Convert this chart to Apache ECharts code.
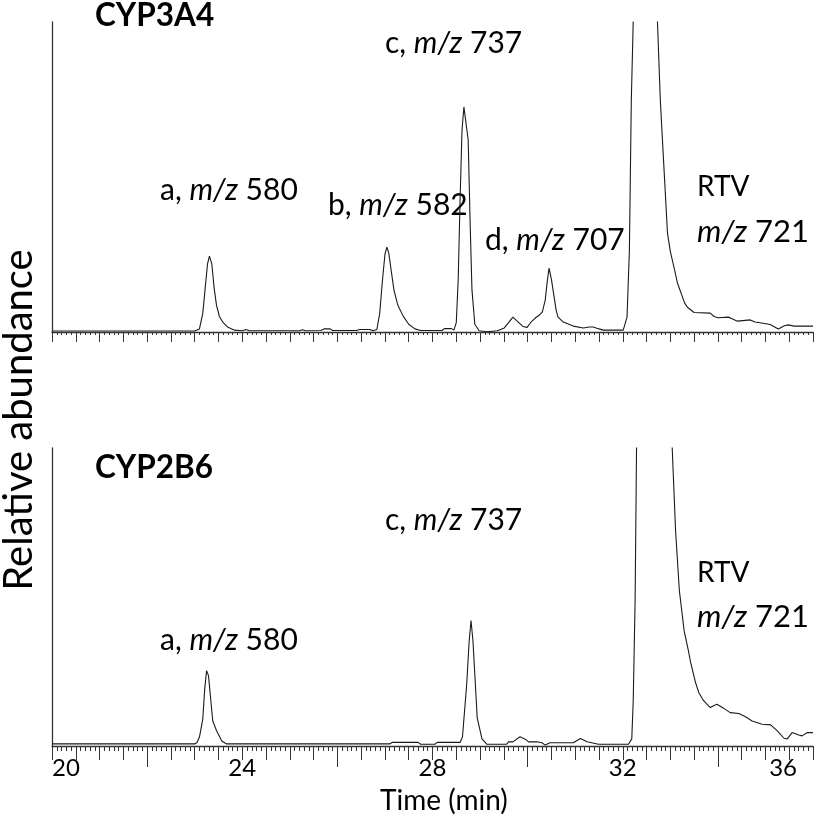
<!DOCTYPE html>
<html><head><meta charset="utf-8">
<script src="https://cdn.jsdelivr.net/npm/echarts/dist/echarts.min.js"></script>
<style>html,body{margin:0;padding:0;background:#fff}#c{width:816px;height:816px}</style>
</head><body><div id="c"></div>
<script>
// ---- data (time in min, relative abundance in %, peaks clipped at 100) ----
const topTimes = [20.0,21.0,22.0,23.0,23.04,23.1,23.17,23.22,23.27,23.31,23.36,23.41,23.46,23.52,23.6,23.7,23.84,24.0,24.08,24.15,25.2,25.27,25.33,25.65,25.72,25.85,25.9,26.4,26.47,26.68,26.75,26.83,26.89,26.95,27.0,27.04,27.08,27.13,27.19,27.27,27.38,27.5,27.63,27.75,28.2,28.25,28.4,28.45,28.5,28.54,28.58,28.62,28.66,28.7,28.75,28.79,28.83,28.89,28.98,29.15,29.36,29.5,29.6,29.69,29.78,29.9,29.99,30.06,30.16,30.25,30.31,30.37,30.41,30.45,30.5,30.54,30.6,30.64,30.75,30.96,31.17,31.3,31.38,31.5,31.59,32.01,32.09,32.14,32.18,32.22,32.45,32.73,32.79,32.88,32.94,33.0,33.09,33.15,33.3,33.36,33.5,33.84,33.92,34.0,34.22,34.3,34.41,34.68,34.78,34.95,35.1,35.27,35.4,35.48,35.6,35.91,36.0];
const topValues = [0.3,0.3,0.3,0.3,0.5,1.0,6,14,22,24.5,22,14,8.5,5,3,1.5,0.6,0.4,0.8,0.4,0.4,0.7,0.4,0.5,1.0,1.0,0.5,0.5,0.8,0.8,0.4,0.8,6,17,25,27.4,25.5,20,13.5,8.7,5.2,2.5,1.0,0.5,0.5,1.1,1.1,0.6,3,16.8,42.6,65,72.6,73.2,62,36,13.5,2.5,0.4,0.1,0.4,1.2,3,4.8,3.5,1.8,1.5,3,4.5,5.5,6.5,10.3,16,20.6,17,13,7,4.8,3.2,1.9,1.3,1.6,1.6,1.0,0.6,0.6,4.8,26.5,74.8,100,400,100,74.8,49,32,26,20,15.8,9.4,8,6.3,6.1,5,4.6,4.8,4.3,3.5,3.9,3.2,2.8,2.4,1.0,2.0,2.3,1.9,1.9,1.9];
const botTimes = [20.0,23.0,23.05,23.1,23.17,23.21,23.25,23.29,23.34,23.38,23.46,23.57,23.67,27.1,27.15,27.7,27.75,28.05,28.1,28.58,28.63,28.72,28.77,28.81,28.85,28.89,28.94,29.04,29.14,29.56,29.6,29.69,29.84,29.95,30.02,30.19,30.23,30.3,30.37,30.47,30.96,31.11,31.25,31.49,32.12,32.19,32.22,32.26,32.29,32.65,33.04,33.11,33.19,33.29,33.38,33.42,33.53,33.6,33.7,33.84,33.91,33.98,34.12,34.26,34.44,34.58,34.72,34.93,35.11,35.25,35.39,35.46,35.56,35.7,35.77,35.88,36.0];
const botValues = [0.7,0.7,1.2,3,9,19,25.3,23.6,15.2,8.4,5.1,1.7,0.7,0.7,1.2,1.2,0.6,0.6,1.2,1.2,3,20.9,35,42.1,35.4,24,9.4,2.4,0.6,0.6,1.4,1.4,3.1,2.3,1.4,1.4,1.9,1.1,0.3,1.1,1.1,2.5,1.4,0.6,0.6,2.4,15,48.8,100,400,100,72.4,52.2,38.7,32,28.6,21.3,17.9,15.2,12.9,13.5,14,12.7,11.2,10.9,9.8,8.4,7.3,7.1,5.1,2.6,2.4,4.5,3.7,3.4,4.5,4.5];
const xLabelValues = [20,24,28,32,36];
const xLongTickValues = [22,26,30,34];
const panelTitles = ['CYP3A4','CYP2B6'];

const FONT = 'Lato, "Open Sans", sans-serif';
const pair = (ts, vs) => ts.map((t, i) => [t, vs[i]]);
const lineCol = '#1a1a1a';
const axisCol = '#333';

function baseX(gridIndex, tickLen, minorLen) {
  return {
    type: 'value', gridIndex, min: 20, max: 36, interval: 0.5,
    axisLine: { show: true, onZero: false, lineStyle: { color: axisCol, width: 1.3 } },
    axisTick: { show: true, length: tickLen, lineStyle: { color: axisCol, width: 1 } },
    minorTick: { show: true, splitNumber: 5, length: minorLen, lineStyle: { color: axisCol, width: 1 } },
    axisLabel: { show: false }, splitLine: { show: false }, minorSplitLine: { show: false }
  };
}
function baseY(gridIndex, show) {
  return {
    type: 'value', gridIndex, min: 0, max: 100, show,
    axisLine: { show: true, lineStyle: { color: axisCol, width: 1.3 } },
    axisTick: { show: false }, axisLabel: { show: false }, splitLine: { show: false }
  };
}
const labelAxis = {
  type: 'value', gridIndex: 2, min: 20, max: 36,
  axisLine: { show: false },
  axisTick: { show: true, customValues: xLongTickValues, length: 21, lineStyle: { color: axisCol, width: 1 } },
  axisLabel: {
    show: true, customValues: xLabelValues, color: '#000', fontSize: 24, fontFamily: FONT, margin: 10,
    alignMinLabel: 'left', alignMaxLabel: 'right', showMinLabel: true, showMaxLabel: true, hideOverlap: false,
    formatter: v => v === 36 ? '{r|36}' : String(v),
    rich: { r: { fontSize: 24, fontFamily: FONT, color: '#000', padding: [0, 16, 0, 0] } }
  },
  splitLine: { show: false }
};

function rt(x, y, pre, post, size) {
  return {
    type: 'text', x, y, silent: true,
    style: {
      text: '{n|' + pre + '}{i|m/z}{n|' + post + '}',
      align: 'left', verticalAlign: 'middle', fill: '#000',
      rich: {
        n: { fontSize: size, fontFamily: FONT, fill: '#000', color: '#000' },
        i: { fontSize: size, fontFamily: FONT, fontStyle: 'italic', fill: '#000', color: '#000' }
      }
    }
  };
}
function pt(x, y, text, size, weight, rot) {
  return {
    type: 'text', x, y, rotation: rot || 0, silent: true,
    style: { text, fontSize: size, fontFamily: FONT, fontWeight: weight || 'normal', fill: '#000',
      align: rot ? 'center' : 'left', verticalAlign: 'middle' }
  };
}
const AS = 30;
const chart = echarts.init(document.getElementById('c'), null, { renderer: 'canvas' });
chart.setOption({
  animation: false,
  backgroundColor: '#fff',
  grid: [
    { left: 52, right: 3, top: 22, height: 310, containLabel: false, outerBoundsMode: 'none' },
    { left: 52, right: 3, top: 448, height: 298, containLabel: false, outerBoundsMode: 'none' },
    { left: 52, right: 3, top: 448, height: 298, containLabel: false, outerBoundsMode: 'none' }
  ],
  xAxis: [baseX(0, 10, 3), baseX(1, 14, 5), labelAxis],
  yAxis: [baseY(0, true), baseY(1, true), baseY(2, false)],
  series: [
    { type: 'line', xAxisIndex: 0, yAxisIndex: 0, data: pair(topTimes, topValues), showSymbol: false, clip: true,
      lineStyle: { color: lineCol, width: 1.1 }, z: 3 },
    { type: 'line', xAxisIndex: 1, yAxisIndex: 1, data: pair(botTimes, botValues), showSymbol: false, clip: true,
      lineStyle: { color: lineCol, width: 1.1 }, z: 3 }
  ],
  graphic: [
    pt(95, 16, panelTitles[0], 31.5, 'bold'),
    rt(385, 43, 'c, ', ' 737', AS),
    rt(160, 190, 'a, ', ' 580', AS),
    rt(328, 205, 'b, ', ' 582', AS),
    rt(485, 240, 'd, ', ' 707', AS),
    pt(697, 187, 'RTV', 28),
    rt(697, 232, '', ' 721', 31),
    pt(95, 468, panelTitles[1], 31.5, 'bold'),
    rt(385, 520, 'c, ', ' 737', AS),
    rt(160, 640, 'a, ', ' 580', AS),
    pt(697, 573, 'RTV', 28),
    rt(697, 617, '', ' 721', 31),
    pt(19, 420, 'Relative abundance', 40, 'normal', Math.PI / 2),
    pt(380, 801, 'Time (min)', 28)
  ]
});
</script>
</body></html>
